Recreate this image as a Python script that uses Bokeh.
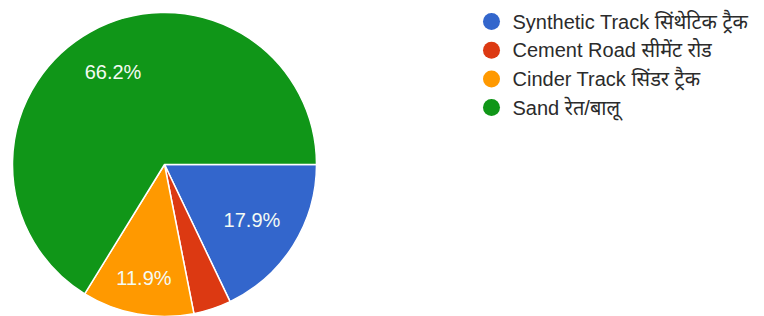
import math
from bokeh.plotting import figure
from bokeh.models import Range1d, ColumnDataSource
from bokeh.core.properties import value
from bokeh.embed import file_html
from bokeh.resources import INLINE

# ---- data ----
categories = ["Synthetic Track सिंथेटिक ट्रैक", "Cement Road सीमेंट रोड",
              "Cinder Track सिंडर ट्रैक", "Sand रेत/बालू"]
percents = [17.9, 4.0, 11.9, 66.2]
colors = ["#3366cc", "#dc3912", "#ff9900", "#109618"]

# ---- layout / style ----
W, H = 764, 316
cx, cy, R = 164, 152, 152
label_r = [0.68, 0.7, 0.76, 0.695]
font = "'Liberation Sans', Arial, 'Noto Sans Devanagari', 'Lohit Devanagari', sans-serif"

p = figure(width=W, height=H, x_range=Range1d(0, W), y_range=Range1d(0, H),
           output_backend="svg", toolbar_location=None, min_border=0)
p.axis.visible = False
p.grid.visible = False
p.outline_line_color = None
p.background_fill_color = "white"

total = sum(percents)
starts, ends, cum = [], [], 0.0
for v in percents:
    starts.append(-2 * math.pi * cum / total)
    cum += v
    ends.append(-2 * math.pi * cum / total)

src = ColumnDataSource(dict(start=starts, end=ends, color=colors))
p.wedge(x=cx, y=cy, radius=R, radius_units="screen", start_angle="start",
        end_angle="end", direction="clock", fill_color="color",
        line_color="white", line_width=1.5, source=src)

# slice labels
lx, ly, lt = [], [], []
for i, v in enumerate(percents):
    if v < 5:
        continue
    mid = (starts[i] + ends[i]) / 2
    lx.append(cx + R * label_r[i] * math.cos(mid))
    ly.append(cy + R * label_r[i] * math.sin(mid))
    lt.append(f"{v:.1f}%")
p.text(x=lx, y=ly, text=lt, text_align="center", text_baseline="middle",
       text_font=value(font), text_font_size="20px", text_color="#f4fbf4")

# legend
n = len(categories)
leg_x, leg_y0, leg_step = 491, 295, 28.7
ys = [leg_y0 - i * leg_step for i in range(n)]
p.scatter(x=[leg_x] * n, y=ys, size=17, marker="circle",
          fill_color=colors, line_color=None)
p.text(x=[leg_x + 21] * n, y=ys, text=categories,
       text_baseline="middle", text_font=value(font), text_font_size="20px",
       text_color="#2b2b2b")

open("out.html", "w").write(file_html(p, INLINE))
